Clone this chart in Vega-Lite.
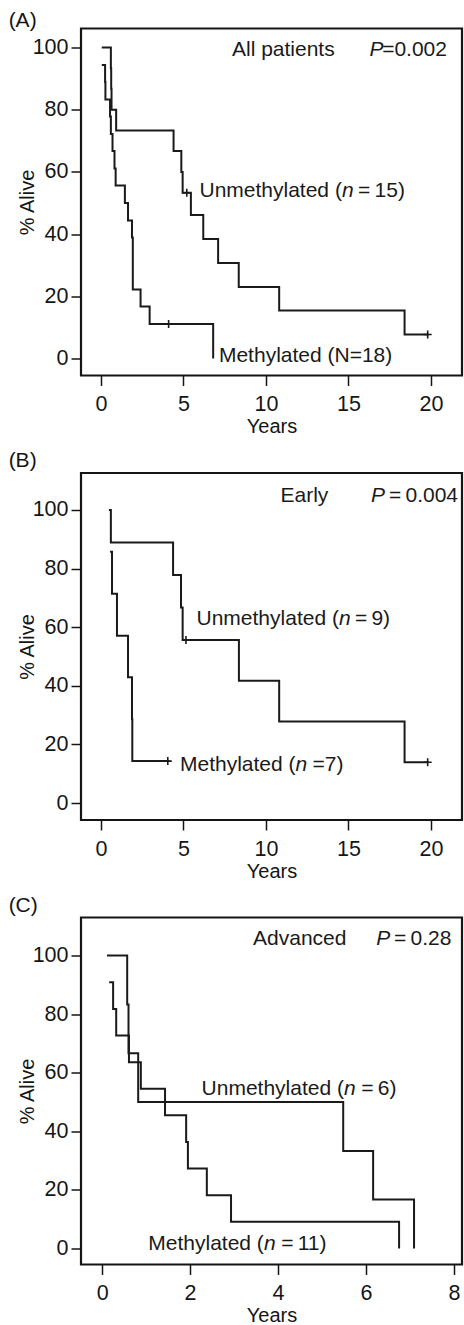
{
  "$schema": "https://vega.github.io/schema/vega-lite/v6.json",
  "padding": {"left": 7, "top": 8.5, "right": 0, "bottom": 0},
  "background": "white",
  "config": {
    "font": "Liberation Sans",
    "view": {"stroke": "#151515", "strokeWidth": 2.2},
    "axis": {"grid": false, "domain": false, "tickColor": "#151515", "tickWidth": 1.5, "tickSize": 10, "labelFontSize": 21.5, "labelColor": "#151515", "titleFontSize": 20, "titleColor": "#151515", "titleFontWeight": "normal", "labelFont": "Liberation Sans", "titleFont": "Liberation Sans"},
    "axisX": {"labelPadding": 8, "titlePadding": 1.5},
    "axisY": {"labelPadding": 3, "titlePadding": -5},
    "title": {"fontSize": 21, "fontWeight": "normal", "anchor": "start", "frame": "bounds", "color": "#151515", "baseline": "alphabetic", "font": "Liberation Sans"},
    "concat": {"spacing": 10.5}
  },
  "datasets": {
    "curves": [
      {"panel": "A", "group": "Methylated", "t": 0.05, "s": 94.4},
      {"panel": "A", "group": "Methylated", "t": 0.25, "s": 88.9},
      {"panel": "A", "group": "Methylated", "t": 0.27, "s": 83.3},
      {"panel": "A", "group": "Methylated", "t": 0.55, "s": 77.8},
      {"panel": "A", "group": "Methylated", "t": 0.6, "s": 72.2},
      {"panel": "A", "group": "Methylated", "t": 0.7, "s": 66.7},
      {"panel": "A", "group": "Methylated", "t": 0.82, "s": 61.1},
      {"panel": "A", "group": "Methylated", "t": 0.89, "s": 55.6},
      {"panel": "A", "group": "Methylated", "t": 1.45, "s": 50.0},
      {"panel": "A", "group": "Methylated", "t": 1.64, "s": 44.4},
      {"panel": "A", "group": "Methylated", "t": 1.88, "s": 38.9},
      {"panel": "A", "group": "Methylated", "t": 1.93, "s": 22.2},
      {"panel": "A", "group": "Methylated", "t": 2.4, "s": 16.7},
      {"panel": "A", "group": "Methylated", "t": 2.95, "s": 11.1},
      {"panel": "A", "group": "Methylated", "t": 6.8, "s": 0},
      {"panel": "A", "group": "Unmethylated", "t": 0.05, "s": 100},
      {"panel": "A", "group": "Unmethylated", "t": 0.6, "s": 93.3},
      {"panel": "A", "group": "Unmethylated", "t": 0.62, "s": 86.7},
      {"panel": "A", "group": "Unmethylated", "t": 0.64, "s": 80.0},
      {"panel": "A", "group": "Unmethylated", "t": 0.92, "s": 73.3},
      {"panel": "A", "group": "Unmethylated", "t": 4.4, "s": 66.7},
      {"panel": "A", "group": "Unmethylated", "t": 4.87, "s": 60.0},
      {"panel": "A", "group": "Unmethylated", "t": 4.95, "s": 53.3},
      {"panel": "A", "group": "Unmethylated", "t": 5.45, "s": 46.1},
      {"panel": "A", "group": "Unmethylated", "t": 6.2, "s": 38.4},
      {"panel": "A", "group": "Unmethylated", "t": 7.1, "s": 30.7},
      {"panel": "A", "group": "Unmethylated", "t": 8.35, "s": 23.0},
      {"panel": "A", "group": "Unmethylated", "t": 10.8, "s": 15.4},
      {"panel": "A", "group": "Unmethylated", "t": 18.4, "s": 7.7},
      {"panel": "A", "group": "Unmethylated", "t": 19.85, "s": 7.7},
      {"panel": "B", "group": "Unmethylated", "t": 0.48, "s": 100},
      {"panel": "B", "group": "Unmethylated", "t": 0.6, "s": 88.9},
      {"panel": "B", "group": "Unmethylated", "t": 4.37, "s": 77.8},
      {"panel": "B", "group": "Unmethylated", "t": 4.85, "s": 66.7},
      {"panel": "B", "group": "Unmethylated", "t": 4.95, "s": 55.6},
      {"panel": "B", "group": "Unmethylated", "t": 8.36, "s": 41.7},
      {"panel": "B", "group": "Unmethylated", "t": 10.8, "s": 27.8},
      {"panel": "B", "group": "Unmethylated", "t": 18.4, "s": 13.9},
      {"panel": "B", "group": "Unmethylated", "t": 19.85, "s": 13.9},
      {"panel": "B", "group": "Methylated", "t": 0.55, "s": 85.7},
      {"panel": "B", "group": "Methylated", "t": 0.67, "s": 71.4},
      {"panel": "B", "group": "Methylated", "t": 0.97, "s": 57.1},
      {"panel": "B", "group": "Methylated", "t": 1.64, "s": 42.9},
      {"panel": "B", "group": "Methylated", "t": 1.88, "s": 28.6},
      {"panel": "B", "group": "Methylated", "t": 1.9, "s": 14.3},
      {"panel": "B", "group": "Methylated", "t": 4.15, "s": 14.3},
      {"panel": "C", "group": "Unmethylated", "t": 0.11, "s": 100},
      {"panel": "C", "group": "Unmethylated", "t": 0.57, "s": 83.3},
      {"panel": "C", "group": "Unmethylated", "t": 0.6, "s": 66.7},
      {"panel": "C", "group": "Unmethylated", "t": 0.82, "s": 50.0},
      {"panel": "C", "group": "Unmethylated", "t": 5.48, "s": 33.3},
      {"panel": "C", "group": "Unmethylated", "t": 6.16, "s": 16.7},
      {"panel": "C", "group": "Unmethylated", "t": 7.09, "s": 0},
      {"panel": "C", "group": "Methylated", "t": 0.16, "s": 90.9},
      {"panel": "C", "group": "Methylated", "t": 0.25, "s": 81.8},
      {"panel": "C", "group": "Methylated", "t": 0.32, "s": 72.7},
      {"panel": "C", "group": "Methylated", "t": 0.61, "s": 63.6},
      {"panel": "C", "group": "Methylated", "t": 0.88, "s": 54.5},
      {"panel": "C", "group": "Methylated", "t": 1.43, "s": 45.5},
      {"panel": "C", "group": "Methylated", "t": 1.91, "s": 36.4},
      {"panel": "C", "group": "Methylated", "t": 1.95, "s": 27.3},
      {"panel": "C", "group": "Methylated", "t": 2.38, "s": 18.2},
      {"panel": "C", "group": "Methylated", "t": 2.93, "s": 9.1},
      {"panel": "C", "group": "Methylated", "t": 6.75, "s": 0}
    ],
    "censored": [
      {"panel": "A", "group": "Unmethylated", "t": 5.2, "s": 53.3},
      {"panel": "A", "group": "Unmethylated", "t": 19.8, "s": 7.7},
      {"panel": "A", "group": "Methylated", "t": 4.1, "s": 11.1},
      {"panel": "B", "group": "Unmethylated", "t": 5.15, "s": 55.6},
      {"panel": "B", "group": "Unmethylated", "t": 19.8, "s": 13.9},
      {"panel": "B", "group": "Methylated", "t": 4.05, "s": 14.3}
    ],
    "labels": [
      {"panel": "A", "kind": "name", "text": "All patients", "t": 7.94, "s": 97.1},
      {"panel": "A", "kind": "var", "text": "P", "t": 16.27, "s": 97.1},
      {"panel": "A", "kind": "end", "text": "=0.002", "t": 20.97, "s": 97.1},
      {"panel": "A", "kind": "name", "text": "Unmethylated (", "t": 5.97, "s": 51.8},
      {"panel": "A", "kind": "var", "text": "n", "t": 14.6, "s": 51.8},
      {"panel": "A", "kind": "end", "text": "\u2009=\u200915)", "t": 18.42, "s": 51.8},
      {"panel": "A", "kind": "name", "text": "Methylated (N=18)", "t": 7.15, "s": -1.29},
      {"panel": "B", "kind": "name", "text": "Early", "t": 10.88, "s": 102.7},
      {"panel": "B", "kind": "var", "text": "P", "t": 16.36, "s": 102.7},
      {"panel": "B", "kind": "end", "text": "\u2009=\u20090.004", "t": 21.64, "s": 102.7},
      {"panel": "B", "kind": "name", "text": "Unmethylated (", "t": 5.79, "s": 60.85},
      {"panel": "B", "kind": "var", "text": "n", "t": 14.42, "s": 60.85},
      {"panel": "B", "kind": "end", "text": "\u2009=\u20099)", "t": 17.52, "s": 60.85},
      {"panel": "B", "kind": "name", "text": "Methylated (", "t": 4.79, "s": 10.92},
      {"panel": "B", "kind": "var", "text": "n", "t": 11.79, "s": 10.92},
      {"panel": "B", "kind": "end", "text": "=7)", "t": 14.7, "s": 10.92},
      {"panel": "C", "kind": "name", "text": "Advanced", "t": 3.43, "s": 103.5},
      {"panel": "C", "kind": "var", "text": "P", "t": 6.23, "s": 103.5},
      {"panel": "C", "kind": "end", "text": "\u2009=\u20090.28", "t": 7.94, "s": 103.5},
      {"panel": "C", "kind": "name", "text": "Unmethylated (", "t": 2.26, "s": 52.56},
      {"panel": "C", "kind": "var", "text": "n", "t": 5.5, "s": 52.56},
      {"panel": "C", "kind": "end", "text": "\u2009=\u20096)", "t": 6.69, "s": 52.56},
      {"panel": "C", "kind": "name", "text": "Methylated (", "t": 1.05, "s": -0.34},
      {"panel": "C", "kind": "var", "text": "n", "t": 3.68, "s": -0.34},
      {"panel": "C", "kind": "end", "text": "\u2009=\u200911)", "t": 5.1, "s": -0.34}
    ]
  },
  "vconcat": [
    {
      "width": 381, "height": 347,
      "title": {"text": "(A)", "offset": -2.7, "dx": -8.5},
      "encoding": {
        "x": {"field": "t", "type": "quantitative", "scale": {"domain": [-1.21, 21.88], "nice": false, "zero": false}, "axis": {"values": [0, 5, 10, 15, 20], "title": "Years"}},
        "y": {"field": "s", "type": "quantitative", "scale": {"domain": [-5.47, 106.1], "nice": false, "zero": false}, "axis": {"values": [0, 20, 40, 60, 80, 100], "title": "% Alive"}}
      },
      "layer": [
        {"data": {"name": "curves"}, "transform": [{"filter": "datum.panel === 'A'"}], "mark": {"type": "line", "interpolate": "step-after", "color": "#1a1a1a", "strokeWidth": 2}, "encoding": {"detail": {"field": "group"}}},
        {"data": {"name": "censored"}, "transform": [{"filter": "datum.panel === 'A'"}], "mark": {"type": "point", "shape": "M-1,0H1M0,-1V1", "size": 64, "filled": false, "color": "#1a1a1a", "strokeWidth": 1.6, "opacity": 1}},
        {"data": {"name": "labels"}, "transform": [{"filter": "datum.panel === 'A' && datum.kind === 'name'"}], "mark": {"type": "text", "align": "left", "baseline": "alphabetic", "fontSize": 21, "color": "#1a1a1a"}, "encoding": {"text": {"field": "text"}}},
        {"data": {"name": "labels"}, "transform": [{"filter": "datum.panel === 'A' && datum.kind === 'var'"}], "mark": {"type": "text", "align": "left", "baseline": "alphabetic", "fontSize": 21, "fontStyle": "italic", "color": "#1a1a1a"}, "encoding": {"text": {"field": "text"}}},
        {"data": {"name": "labels"}, "transform": [{"filter": "datum.panel === 'A' && datum.kind === 'end'"}], "mark": {"type": "text", "align": "right", "baseline": "alphabetic", "fontSize": 21, "color": "#1a1a1a"}, "encoding": {"text": {"field": "text"}}}
      ]
    },
    {
      "width": 381, "height": 347,
      "title": {"text": "(B)", "offset": 1.7, "dx": -8.5},
      "encoding": {
        "x": {"field": "t", "type": "quantitative", "scale": {"domain": [-1.21, 21.88], "nice": false, "zero": false}, "axis": {"values": [0, 5, 10, 15, 20], "title": "Years"}},
        "y": {"field": "s", "type": "quantitative", "scale": {"domain": [-5.8, 112.6], "nice": false, "zero": false}, "axis": {"values": [0, 20, 40, 60, 80, 100], "title": "% Alive"}}
      },
      "layer": [
        {"data": {"name": "curves"}, "transform": [{"filter": "datum.panel === 'B'"}], "mark": {"type": "line", "interpolate": "step-after", "color": "#1a1a1a", "strokeWidth": 2}, "encoding": {"detail": {"field": "group"}}},
        {"data": {"name": "censored"}, "transform": [{"filter": "datum.panel === 'B'"}], "mark": {"type": "point", "shape": "M-1,0H1M0,-1V1", "size": 64, "filled": false, "color": "#1a1a1a", "strokeWidth": 1.6, "opacity": 1}},
        {"data": {"name": "labels"}, "transform": [{"filter": "datum.panel === 'B' && datum.kind === 'name'"}], "mark": {"type": "text", "align": "left", "baseline": "alphabetic", "fontSize": 21, "color": "#1a1a1a"}, "encoding": {"text": {"field": "text"}}},
        {"data": {"name": "labels"}, "transform": [{"filter": "datum.panel === 'B' && datum.kind === 'var'"}], "mark": {"type": "text", "align": "left", "baseline": "alphabetic", "fontSize": 21, "fontStyle": "italic", "color": "#1a1a1a"}, "encoding": {"text": {"field": "text"}}},
        {"data": {"name": "labels"}, "transform": [{"filter": "datum.panel === 'B' && datum.kind === 'end'"}], "mark": {"type": "text", "align": "right", "baseline": "alphabetic", "fontSize": 21, "color": "#1a1a1a"}, "encoding": {"text": {"field": "text"}}}
      ]
    },
    {
      "width": 381, "height": 347,
      "title": {"text": "(C)", "offset": 1.3, "dx": -8.5},
      "encoding": {
        "x": {"field": "t", "type": "quantitative", "scale": {"domain": [-0.48, 8.18], "nice": false, "zero": false}, "axis": {"values": [0, 2, 4, 6, 8], "title": "Years"}},
        "y": {"field": "s", "type": "quantitative", "scale": {"domain": [-5.46, 113], "nice": false, "zero": false}, "axis": {"values": [0, 20, 40, 60, 80, 100], "title": "% Alive"}}
      },
      "layer": [
        {"data": {"name": "curves"}, "transform": [{"filter": "datum.panel === 'C'"}], "mark": {"type": "line", "interpolate": "step-after", "color": "#1a1a1a", "strokeWidth": 2}, "encoding": {"detail": {"field": "group"}}},
        {"data": {"name": "labels"}, "transform": [{"filter": "datum.panel === 'C' && datum.kind === 'name'"}], "mark": {"type": "text", "align": "left", "baseline": "alphabetic", "fontSize": 21, "color": "#1a1a1a"}, "encoding": {"text": {"field": "text"}}},
        {"data": {"name": "labels"}, "transform": [{"filter": "datum.panel === 'C' && datum.kind === 'var'"}], "mark": {"type": "text", "align": "left", "baseline": "alphabetic", "fontSize": 21, "fontStyle": "italic", "color": "#1a1a1a"}, "encoding": {"text": {"field": "text"}}},
        {"data": {"name": "labels"}, "transform": [{"filter": "datum.panel === 'C' && datum.kind === 'end'"}], "mark": {"type": "text", "align": "right", "baseline": "alphabetic", "fontSize": 21, "color": "#1a1a1a"}, "encoding": {"text": {"field": "text"}}}
      ]
    }
  ]
}
